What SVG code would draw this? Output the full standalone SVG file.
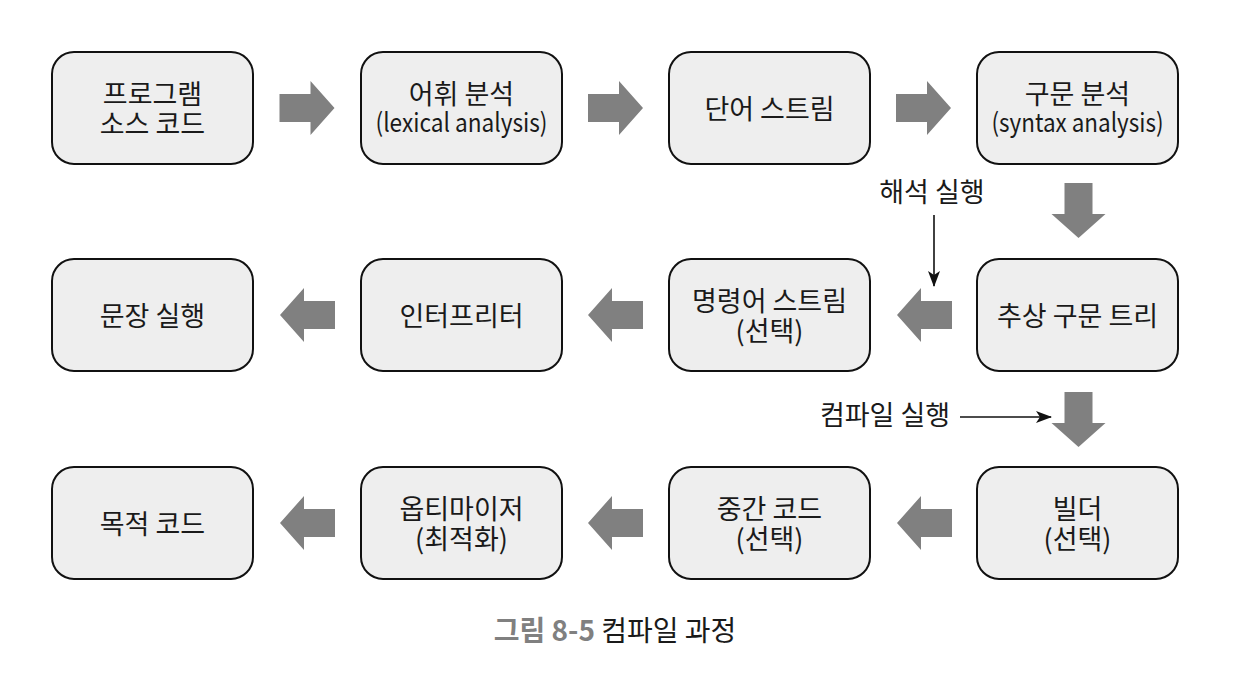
<svg xmlns="http://www.w3.org/2000/svg" width="1240" height="692" viewBox="0 0 1240 692">
<style>
.box{fill:#eeeeee;stroke:#111111;stroke-width:2}
.t{font-family:"Noto Sans CJK KR","Noto Sans",sans-serif;font-size:27px;fill:#1a1a1a;text-anchor:middle}
.lat{font-size:26px}
.blk{fill:#808080}
.thin{stroke:#111111;stroke-width:1.6;fill:none}
</style>
<defs>
<marker id="ah" viewBox="0 0 16 12" refX="15" refY="6" markerWidth="16" markerHeight="12" markerUnits="userSpaceOnUse" orient="auto">
<path d="M0,0 L16,6 L0,12 L4,6 Z" fill="#111111"/>
</marker>
<path id="ar" d="M0,-14 L31,-14 L31,-27 L55,0 L31,27 L31,14 L0,14 Z"/>
</defs>
<rect width="1240" height="692" fill="#ffffff"/>

<g id="n1"><rect class="box" x="52" y="52" width="201" height="112" rx="22"/><text class="t" x="152.5" y="103.5">프로그램</text><text class="t" x="152.5" y="133.5">소스 코드</text></g>
<g id="n2"><rect class="box" x="361" y="52" width="201" height="112" rx="22"/><text class="t" x="461.5" y="103.5">어휘 분석</text><text class="t lat" x="461.5" y="132" textLength="172" lengthAdjust="spacingAndGlyphs">(lexical analysis)</text></g>
<g id="n3"><rect class="box" x="669" y="52" width="201" height="112" rx="22"/><text class="t" x="769.5" y="119">단어 스트림</text></g>
<g id="n4"><rect class="box" x="977" y="52" width="201" height="112" rx="22"/><text class="t" x="1077.5" y="103.5">구문 분석</text><text class="t lat" x="1077.5" y="132" textLength="172" lengthAdjust="spacingAndGlyphs">(syntax analysis)</text></g>

<g id="n5"><rect class="box" x="52" y="259" width="201" height="112" rx="22"/><text class="t" x="152.5" y="326">문장 실행</text></g>
<g id="n6"><rect class="box" x="361" y="259" width="201" height="112" rx="22"/><text class="t" x="461.5" y="326">인터프리터</text></g>
<g id="n7"><rect class="box" x="669" y="259" width="201" height="112" rx="22"/><text class="t" x="769.5" y="310.5">명령어 스트림</text><text class="t" x="769.5" y="340.5">(선택)</text></g>
<g id="n8"><rect class="box" x="977" y="259" width="201" height="112" rx="22"/><text class="t" x="1077.5" y="326">추상 구문 트리</text></g>

<g id="n9"><rect class="box" x="52" y="467" width="201" height="112" rx="22"/><text class="t" x="152.5" y="534">목적 코드</text></g>
<g id="n10"><rect class="box" x="361" y="467" width="201" height="112" rx="22"/><text class="t" x="461.5" y="518.5">옵티마이저</text><text class="t" x="461.5" y="548.5">(최적화)</text></g>
<g id="n11"><rect class="box" x="669" y="467" width="201" height="112" rx="22"/><text class="t" x="769.5" y="518.5">중간 코드</text><text class="t" x="769.5" y="548.5">(선택)</text></g>
<g id="n12"><rect class="box" x="977" y="467" width="201" height="112" rx="22"/><text class="t" x="1077.5" y="518.5">빌더</text><text class="t" x="1077.5" y="548.5">(선택)</text></g>

<g id="connectors">
<use href="#ar" class="blk" transform="translate(279.5,108)"/>
<use href="#ar" class="blk" transform="translate(588,108)"/>
<use href="#ar" class="blk" transform="translate(896,108)"/>
<use href="#ar" class="blk" transform="translate(1078.5,183) rotate(90)"/>
<use href="#ar" class="blk" transform="translate(952,315) rotate(180)"/>
<use href="#ar" class="blk" transform="translate(643,315) rotate(180)"/>
<use href="#ar" class="blk" transform="translate(335,315) rotate(180)"/>
<use href="#ar" class="blk" transform="translate(1078.5,392) rotate(90)"/>
<use href="#ar" class="blk" transform="translate(952,523) rotate(180)"/>
<use href="#ar" class="blk" transform="translate(643,523) rotate(180)"/>
<use href="#ar" class="blk" transform="translate(335,523) rotate(180)"/>
<line class="thin" x1="934" y1="215" x2="934" y2="286" marker-end="url(#ah)"/>
<line class="thin" x1="960" y1="417" x2="1051" y2="417" marker-end="url(#ah)"/>
</g>

<text class="t" x="932" y="202">해석 실행</text>
<text class="t" x="885" y="425">컴파일 실행</text>
<text class="t" x="615" y="641" style="font-size:28px"><tspan fill="#808080" font-weight="bold">그림 8-5</tspan> 컴파일 과정</text>
</svg>
